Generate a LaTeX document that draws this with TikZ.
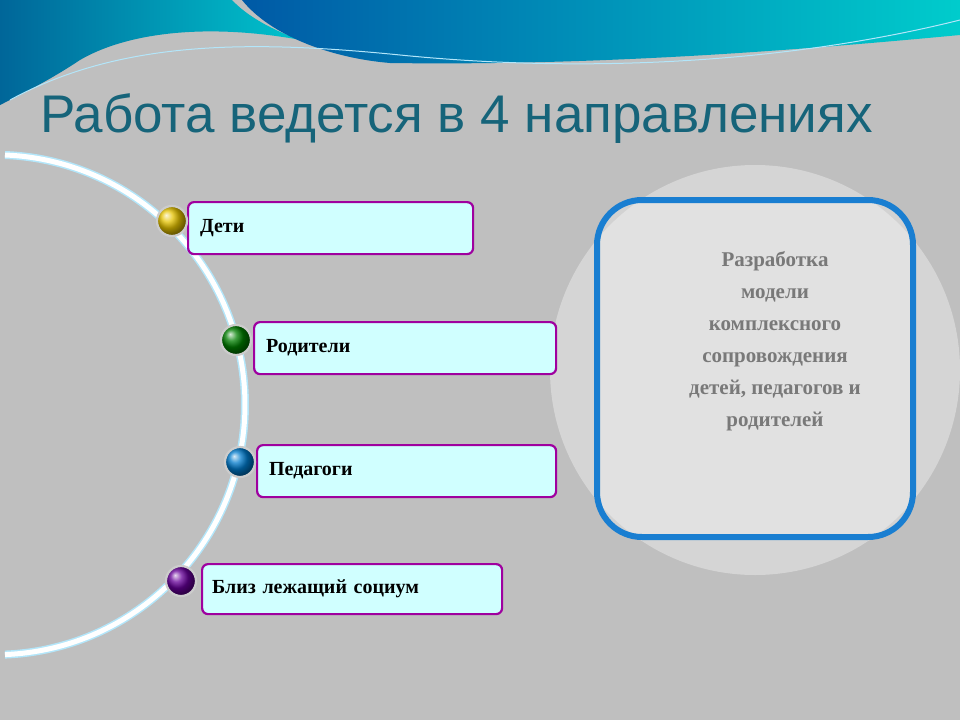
\documentclass[tikz,border=0pt]{standalone}
\usepackage{fontspec}
\setmainfont{Liberation Serif}
\newfontfamily\titlefont{Liberation Sans}
\definecolor{boxfill}{RGB}{208,255,255}
\definecolor{titlecol}{RGB}{22,100,122}
\begin{document}
\begin{tikzpicture}[x=1pt,y=-1pt,
  item/.style={draw=violet!75!magenta,line width=2.2pt,fill=boxfill,rounded corners=6pt,anchor=north west,inner sep=0pt,text=black,font=\bfseries\fontsize{20}{22}\selectfont,align=left},
  ball/.style={circle,draw=gray!40,line width=2.2pt,minimum size=30pt,inner sep=0pt}]
\useasboundingbox (0,0) rectangle (960,720);
\fill[gray!50] (0,0) rectangle (960,720);
% top waves
\shade[left color=teal!80!blue,right color=cyan!70!teal] (0,0)--(232,0) .. controls (260,30) and (320,50) .. (370,57) .. controls (250,20) and (140,25) .. (80,60) .. controls (50,80) and (20,95) .. (0,105) -- cycle;
\shade[left color=teal!70!blue,right color=cyan!60!teal] (242,0) .. controls (270,35) and (330,58) .. (390,63) .. controls (600,66) and (800,50) .. (960,35) -- (960,0) -- cycle;
\draw[white!70!cyan,line width=1pt] (10,100) .. controls (120,40) and (250,40) .. (400,55) .. controls (600,75) and (800,60) .. (960,20);
% title
\node[anchor=base west,inner sep=0pt,text=titlecol,font=\titlefont\fontsize{53}{60}\selectfont] (title) at (40,132) {Работа ведется в 4 направлениях};
% arc
\coordinate (arcstart) at (5,155);
\draw[cyan!30,line width=8pt] (arcstart) arc[start angle=-87.7,end angle=87.7,radius=250];
\draw[white,line width=5pt] (arcstart) arc[start angle=-87.7,end angle=87.7,radius=250];
% right panel
\fill[white,opacity=0.35] (755,370) circle (205);
\draw[blue!45!cyan!80!black!90,line width=6pt,fill=white,fill opacity=0.3,rounded corners=45pt] (597,200) rectangle (913,537);
\node[text=gray!95!black,font=\bfseries\fontsize{21}{32}\selectfont,align=center,anchor=north] (model) at (775,248) {Разработка\\модели\\комплексного\\сопровождения\\детей, педагогов и\\родителей};
% boxes
\node[item,minimum width=285pt,minimum height=52pt,text width=275pt] (b1) at (187,201) {\hspace*{7pt}\raisebox{-4pt}{Дети}};
\node[item,minimum width=302pt,minimum height=52pt,text width=292pt] (b2) at (253,321) {\hspace*{7pt}\raisebox{-4pt}{Родители}};
\node[item,minimum width=299pt,minimum height=52pt,text width=289pt] (b3) at (256,444) {\hspace*{7pt}\raisebox{-4pt}{Педагоги}};
\node[item,minimum width=300pt,minimum height=50pt,text width=290pt] (b4) at (201,563) {\hspace*{5pt}\raisebox{-4pt}{Близ лежащий социум}};
% balls
\node[ball,ball color=yellow!70!orange!90!black] (c1) at (172,221) {};
\node[ball,ball color=green!50!black] (c2) at (236,340) {};
\node[ball,ball color=cyan!60!blue!80!black] (c3) at (240,462) {};
\node[ball,ball color=violet!80!blue] (c4) at (181,581) {};
\end{tikzpicture}
\end{document}
